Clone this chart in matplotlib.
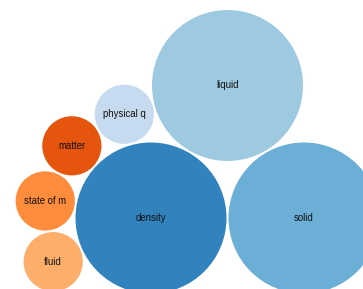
#!/usr/bin/env python3
"""
Bubble chart of terms (d3 style circle packing)
"""
import math
import matplotlib
matplotlib.use('Agg')
import matplotlib.pyplot as plt
from matplotlib.patches import Circle

# Data
labels = ['density', 'solid', 'liquid', 'physical q', 'matter', 'state of m', 'fluid']
values = [13, 13, 13, 2, 2, 2, 2]
colors = ['#3182bd', '#6baed6', '#9ecae1', '#c6dbef', '#e6550d', '#fd8d3c', '#fdae6b']

# Layout parameters (pixels)
W, H = 363, 289
RADIUS_SCALE = 20.94   # px per sqrt(value)
PADDING = 1.0


class Node:
    def __init__(self, r):
        self.r = r
        self.x = 0.0
        self.y = 0.0
        self.next = self
        self.prev = self


def place(a, b, c):
    # put c tangent to a and b (same as d3 v3 packPlace)
    db = a.r + c.r
    dx = b.x - a.x
    dy = b.y - a.y
    if db and (dx or dy):
        da = b.r + c.r
        dc = dx * dx + dy * dy
        da *= da
        db *= db
        x = 0.5 + (db - da) / (2 * dc)
        db2 = db - dc
        y = math.sqrt(max(0, 2 * da * (db + dc) - db2 * db2 - da * da)) / (2 * dc)
        c.x = a.x + x * dx + y * dy
        c.y = a.y + x * dy - y * dx
    else:
        c.x = a.x + db
        c.y = a.y


def intersects(a, b):
    dx = b.x - a.x
    dy = b.y - a.y
    dr = a.r + b.r
    return 0.999 * dr * dr > dx * dx + dy * dy


def insert(a, b):
    c = a.next
    a.next = b
    b.prev = a
    b.next = c
    c.prev = b


def splice(a, b):
    a.next = b
    b.prev = a


def pack_siblings(nodes):
    n = len(nodes)
    a = nodes[0]
    a.x, a.y = -a.r, 0.0
    if n < 2:
        return
    b = nodes[1]
    b.x, b.y = b.r, 0.0
    if n < 3:
        return
    c = nodes[2]
    place(a, b, c)
    insert(a, c)
    a.prev = c
    insert(c, b)
    b = a.next

    i = 3
    while i < n:
        c = nodes[i]
        place(a, b, c)
        isect = False
        s1 = s2 = 1
        j = b.next
        while j is not b:
            if intersects(j, c):
                isect = True
                break
            j = j.next
            s1 += 1
        k = None
        if isect:
            k = a.prev
            while k is not j.prev:
                if intersects(k, c):
                    break
                k = k.prev
                s2 += 1
        if isect:
            if s1 < s2 or (s1 == s2 and b.r < a.r):
                b = j
                splice(a, b)
            else:
                a = k
                splice(a, b)
        else:
            insert(a, c)
            b = c
            i += 1


# Build nodes, radius grows with sqrt of value, padded for packing
nodes = [Node(math.sqrt(v) * RADIUS_SCALE + PADDING) for v in values]
pack_siblings(nodes)

# View window: the screenshot is a crop of the packed layout
ox = 227.5
oy = 218.0

fig = plt.figure(figsize=(W / 100, H / 100), dpi=100)
ax = fig.add_axes([0, 0, 1, 1])
ax.set_xlim(-ox, W - ox)
ax.set_ylim(H - oy, -oy)  # y down like svg
ax.axis('off')

for node, label, color in zip(nodes, labels, colors):
    ax.add_patch(Circle((node.x, node.y), node.r - PADDING, facecolor=color,
                        edgecolor='none', antialiased=True))
    ax.text(node.x, node.y, label, ha='center', va='center', fontsize=6.9,
            family=['Liberation Sans', 'DejaVu Sans'], color='#111111')

fig.savefig('out.png', dpi=100)
